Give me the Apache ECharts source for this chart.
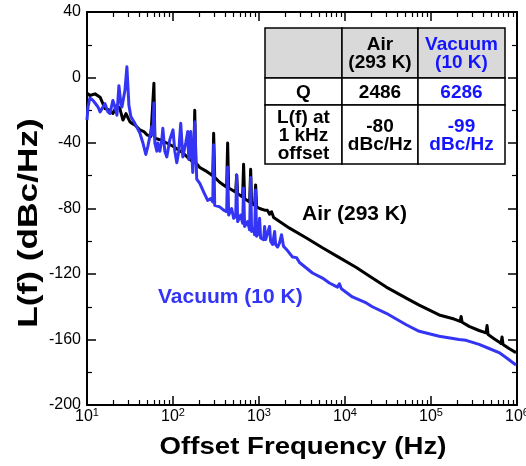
<!DOCTYPE html>
<html><head><meta charset="utf-8">
<script src="https://cdn.jsdelivr.net/npm/echarts@6/dist/echarts.min.js"></script>
<style>html,body{margin:0;padding:0;background:#fff}#c{width:526px;height:466px}</style>
</head><body><div id="c"></div>
<script>
// ---- data ----
const airFreq = [10,10.8,12.4,14.2,16.2,18.5,20,22.3,24.1,26.2,28.4,29.9,31.5,33.3,36,41.2,45.8,49.7,55.3,58.3,60,61.5,70.3,84.7,100,113.7,130,156.6,174.2,179,183.7,205,240,290,297,305.5,349,420.7,432,443.8,535.5,550,564.6,645,662,680.7,718,778,800,820.6,889,914,938,1016,1162,1250,1327,1400,1480,1560,1734,2265,3565,5468,8610,13550,20800,30200,51500,72950,124500,185800,218000,224000,230000,277300,362400,436500,448700,461300,541000,618000,652000,670000,688000,807000,973000];
const airLevel = [-9.5,-11,-10,-12,-19,-20,-22,-17,-19,-26,-22,-22,-27,-28,-29,-32,-33,-35,-36,-37,-3.5,-37,-38,-40,-42,-44,-46,-50,-52,-20,-52,-55,-57,-60,-34,-61,-64,-67,-40,-67.5,-70,-59.5,-71,-73,-53,-74,-75,-76,-56,-77,-78,-65.6,-79,-80,-81,-81,-83.5,-82,-85.5,-84.5,-88,-92,-98,-104,-110,-116,-122.5,-128,-134.7,-139,-145,-147.5,-149,-146,-149.5,-152,-154.5,-156,-151.5,-157,-159.5,-161.5,-162.5,-158.5,-163,-165.5,-168];
const vacFreq = [10,10.27,10.8,11.74,12.4,13.42,14.2,15.33,16.2,17.52,18.5,20,21.13,22.3,23.5,24.8,25.5,27.6,29.1,30.7,32.4,36,41.2,44.7,48.3,51,53.8,56.8,58.3,60,61.5,64.9,66.6,70.3,74.2,76.2,80.3,84.7,91.8,100,105,110.7,116.7,123,130,140.6,148.5,152.5,160.8,169.7,179,188.8,205,227.6,253,274.6,290,297,305.5,349,388,420.7,432,443.8,481,507,535.5,550,564.6,612,645,662,680.7,737.5,778,800,820.6,865.5,889,914,938,989,1016,1044,1075,1130,1162,1194,1259,1327,1365,1439,1520,1560,1644,1734,1829,1928,2089,2453,2731,2958,4187,5470,6590,8165,8610,9080,12190,17700,20800,30200,51500,72950,124500,212300,255900,362400,473500,618000,745000,973000];
const vacLevel = [-26,-18,-12.5,-14,-15.6,-18,-21,-18,-16,-21,-22,-14,-18,-23,-5,-16,-18,-8,6.5,-17,-24,-28,-34,-40,-47,-42,-36,-30,-35,-15.6,-40,-45,-40,-45,-38,-31,-45,-48.5,-38,-32,-45,-52,-45,-28,-48.5,-40,-33,-50,-33,-58,-27,-62,-64.6,-70,-75,-74,-76,-41,-78,-79,-81,-82,-54.7,-84,-80,-86,-85,-59.5,-88,-84,-89,-67.5,-91,-88,-93,-61,-94,-92,-96,-68.7,-97,-95,-86,-98,-97,-99,-91,-99,-99,-91,-100,-102,-94,-102,-103.5,-101,-96,-103,-105,-109.6,-110,-113,-119.4,-122.5,-125.5,-128,-126,-129,-134,-137.7,-140,-144,-151,-155,-158,-160,-160.5,-163,-165.5,-168,-171,-175.6];
const xMajorTicks = [10,100,1000,10000,100000,1000000];
const xMinorTicks = [20,30,40,50,60,70,80,90,200,300,400,500,600,700,800,900,2000,3000,4000,5000,6000,7000,8000,9000,20000,30000,40000,50000,60000,70000,80000,90000,200000,300000,400000,500000,600000,700000,800000,900000];
const yTicks = [-200,-160,-120,-80,-40,0,40];
const seriesNames = ['Air (293 K)', 'Vacuum (10 K)'];
const tableCells = [
  ['', 'Air\n(293 K)', 'Vacuum\n(10 K)'],
  ['Q', '2486', '6286'],
  ['L(f) at\n1 kHz\noffset', '-80\ndBc/Hz', '-99\ndBc/Hz']
];
const xTitle = 'Offset Frequency (Hz)';
const yTitle = 'L(f) (dBc/Hz)';

// ---- styles / layout ----
const FONT = '"Liberation Sans", Arial, Helvetica, sans-serif';
const BLACK = '#000000';
const BLUE = '#3434f4';
const TBLUE = '#1414ff';
const colX = [265, 342, 418, 505];
const rowY = [28, 78, 105, 164];

const chart = echarts.init(document.getElementById('c'), null, {renderer: 'canvas'});

function zip(a, b) { return a.map((v, i) => [v, b[i]]); }

const tableGraphics = [];
for (let r = 0; r < 3; r++) {
  for (let c = 0; c < 3; c++) {
    tableGraphics.push({
      type: 'rect',
      shape: {x: colX[c], y: rowY[r], width: colX[c + 1] - colX[c], height: rowY[r + 1] - rowY[r]},
      style: {fill: r === 0 ? '#d9d9d9' : '#ffffff', stroke: BLACK, lineWidth: 1.5},
      z: 100
    });
    if (tableCells[r][c]) {
      tableGraphics.push({
        type: 'text',
        x: (colX[c] + colX[c + 1]) / 2,
        y: (rowY[r] + rowY[r + 1]) / 2 + 1,
        style: {
          text: tableCells[r][c],
          font: 'bold 19px ' + FONT,
          fill: c === 2 ? TBLUE : BLACK,
          align: 'center',
          verticalAlign: 'middle',
          lineHeight: 18
        },
        z: 101
      });
    }
  }
}

const baseX = {
  type: 'log', logBase: 10, min: 10, max: 1000000,
  splitLine: {show: false}
};
const baseY = {
  type: 'value', min: yTicks[0], max: yTicks[yTicks.length - 1], interval: 40,
  splitLine: {show: false}
};

const option = {
  animation: false,
  backgroundColor: '#ffffff',
  grid: {left: 87, right: 9, top: 12, bottom: 61, containLabel: false, outerBoundsMode: 'none'},
  xAxis: [
    Object.assign({}, baseX, {
      position: 'bottom',
      axisLine: {show: true, onZero: false, lineStyle: {color: BLACK, width: 2}},
      axisTick: {show: true, inside: true, length: 9, lineStyle: {color: BLACK, width: 1.5}, customValues: xMajorTicks},
      axisLabel: {
        customValues: xMajorTicks,
        margin: 2,
        color: BLACK,
        hideOverlap: false,
        formatter: v => '{b|10}{s|' + Math.round(Math.log10(v)) + '}',
        rich: {
          b: {fontSize: 16, fontFamily: FONT, color: BLACK},
          s: {fontSize: 11, fontFamily: FONT, color: BLACK, padding: [0, 0, 9, 0]}
        }
      }
    }),
    Object.assign({}, baseX, {
      position: 'bottom',
      axisLine: {show: false, onZero: false},
      axisTick: {show: true, inside: true, length: 5, lineStyle: {color: BLACK, width: 1.2}, customValues: xMinorTicks},
      axisLabel: {show: false}
    }),
    Object.assign({}, baseX, {
      position: 'top',
      axisLine: {show: true, onZero: false, lineStyle: {color: BLACK, width: 2}},
      axisTick: {show: true, inside: true, length: 9, lineStyle: {color: BLACK, width: 1.5}, customValues: xMajorTicks},
      axisLabel: {show: false}
    }),
    Object.assign({}, baseX, {
      position: 'top',
      axisLine: {show: false, onZero: false},
      axisTick: {show: true, inside: true, length: 5, lineStyle: {color: BLACK, width: 1.2}, customValues: xMinorTicks},
      axisLabel: {show: false}
    })
  ],
  yAxis: [
    Object.assign({}, baseY, {
      position: 'left',
      axisLine: {show: true, onZero: false, lineStyle: {color: BLACK, width: 2}},
      axisTick: {show: true, inside: true, length: 9, lineStyle: {color: BLACK, width: 1.5}},
      minorTick: {show: true, splitNumber: 2, length: 5, lineStyle: {color: BLACK, width: 1.2}},
      axisLabel: {color: BLACK, fontSize: 16, fontFamily: FONT, margin: 6}
    }),
    Object.assign({}, baseY, {
      position: 'right',
      axisLine: {show: true, onZero: false, lineStyle: {color: BLACK, width: 2}},
      axisTick: {show: true, inside: true, length: 9, lineStyle: {color: BLACK, width: 1.5}},
      minorTick: {show: true, splitNumber: 2, length: 5, lineStyle: {color: BLACK, width: 1.2}},
      axisLabel: {show: false}
    })
  ],
  series: [
    {
      name: seriesNames[0], type: 'line', xAxisIndex: 0, yAxisIndex: 0,
      data: zip(airFreq, airLevel), showSymbol: false, symbol: 'none',
      lineStyle: {color: BLACK, width: 3, join: 'round'}, z: 2
    },
    {
      name: seriesNames[1], type: 'line', xAxisIndex: 0, yAxisIndex: 0,
      data: zip(vacFreq, vacLevel), showSymbol: false, symbol: 'none',
      lineStyle: {color: BLUE, width: 3, join: 'round'}, z: 3
    }
  ],
  graphic: [
    {
      type: 'text', x: 302, y: 214,
      style: {text: seriesNames[0], font: 'bold 21px ' + FONT, fill: BLACK, align: 'left', verticalAlign: 'middle'},
      z: 50
    },
    {
      type: 'text', x: 158, y: 297,
      style: {text: seriesNames[1], font: 'bold 21px ' + FONT, fill: BLUE, align: 'left', verticalAlign: 'middle'},
      z: 50
    },
    {
      type: 'text', x: 303, y: 447, scaleX: 1.15,
      style: {text: xTitle, font: 'bold 24px ' + FONT, fill: BLACK, align: 'center', verticalAlign: 'middle'},
      z: 50
    },
    {
      type: 'text', x: 29, y: 223, rotation: Math.PI / 2, scaleX: 1.26,
      style: {text: yTitle, font: 'bold 28px ' + FONT, fill: BLACK, align: 'center', verticalAlign: 'middle'},
      z: 50
    }
  ].concat(tableGraphics)
};
chart.setOption(option);
</script>
</body></html>
